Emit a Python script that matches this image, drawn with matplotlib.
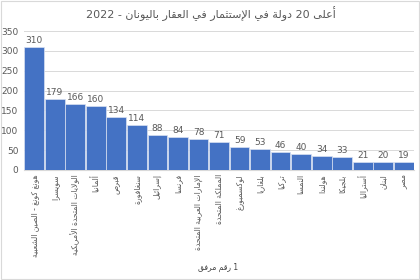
import matplotlib
matplotlib.use('Agg')
import matplotlib.pyplot as plt
import numpy as np

countries = ['هونغ كونغ - الصين الشعبية', 'سويسرا', 'الولايات المتحدة الأمريكية', 'ألمانيا',
             'قبرص', 'سنغافورة', 'إسرائيل', 'فرنسا', 'الإمارات العربية المتحدة',
             'المملكة المتحدة', 'لوكسمبورغ', 'بلغاريا', 'تركيا', 'النمسا', 'هولندا',
             'بلجيكا', 'أستراليا', 'لبنان', 'مصر']
values = [310, 179, 166, 160, 134, 114, 88, 84, 78, 71, 59, 53, 46, 40, 34, 33, 21, 20, 19]
yticks = [0, 50, 100, 150, 200, 250, 300, 350]
title = 'أعلى 20 دولة في الإستثمار في العقار باليونان - 2022'
note = 'مرفق رقم 1'

# matplotlib has no arabic shaping, so do a small one by hand
# (isolated, final, initial, medial)
FORMS = {
    'ء': (0xFE80, None, None, None), 'آ': (0xFE81, 0xFE82, None, None),
    'أ': (0xFE83, 0xFE84, None, None), 'ؤ': (0xFE85, 0xFE86, None, None),
    'إ': (0xFE87, 0xFE88, None, None), 'ئ': (0xFE89, 0xFE8A, 0xFE8B, 0xFE8C),
    'ا': (0xFE8D, 0xFE8E, None, None), 'ب': (0xFE8F, 0xFE90, 0xFE91, 0xFE92),
    'ة': (0xFE93, 0xFE94, None, None), 'ت': (0xFE95, 0xFE96, 0xFE97, 0xFE98),
    'ث': (0xFE99, 0xFE9A, 0xFE9B, 0xFE9C), 'ج': (0xFE9D, 0xFE9E, 0xFE9F, 0xFEA0),
    'ح': (0xFEA1, 0xFEA2, 0xFEA3, 0xFEA4), 'خ': (0xFEA5, 0xFEA6, 0xFEA7, 0xFEA8),
    'د': (0xFEA9, 0xFEAA, None, None), 'ذ': (0xFEAB, 0xFEAC, None, None),
    'ر': (0xFEAD, 0xFEAE, None, None), 'ز': (0xFEAF, 0xFEB0, None, None),
    'س': (0xFEB1, 0xFEB2, 0xFEB3, 0xFEB4), 'ش': (0xFEB5, 0xFEB6, 0xFEB7, 0xFEB8),
    'ص': (0xFEB9, 0xFEBA, 0xFEBB, 0xFEBC), 'ض': (0xFEBD, 0xFEBE, 0xFEBF, 0xFEC0),
    'ط': (0xFEC1, 0xFEC2, 0xFEC3, 0xFEC4), 'ظ': (0xFEC5, 0xFEC6, 0xFEC7, 0xFEC8),
    'ع': (0xFEC9, 0xFECA, 0xFECB, 0xFECC), 'غ': (0xFECD, 0xFECE, 0xFECF, 0xFED0),
    'ف': (0xFED1, 0xFED2, 0xFED3, 0xFED4), 'ق': (0xFED5, 0xFED6, 0xFED7, 0xFED8),
    'ك': (0xFED9, 0xFEDA, 0xFEDB, 0xFEDC), 'ل': (0xFEDD, 0xFEDE, 0xFEDF, 0xFEE0),
    'م': (0xFEE1, 0xFEE2, 0xFEE3, 0xFEE4), 'ن': (0xFEE5, 0xFEE6, 0xFEE7, 0xFEE8),
    'ه': (0xFEE9, 0xFEEA, 0xFEEB, 0xFEEC), 'و': (0xFEED, 0xFEEE, None, None),
    'ى': (0xFEEF, 0xFEF0, None, None), 'ي': (0xFEF1, 0xFEF2, 0xFEF3, 0xFEF4),
}
LAMALEF = {'آ': (0xFEF5, 0xFEF6), 'أ': (0xFEF7, 0xFEF8),
           'إ': (0xFEF9, 0xFEFA), 'ا': (0xFEFB, 0xFEFC)}


def shape_word(w):
    units = []
    i = 0
    while i < len(w):
        c = w[i]
        if c == 'ل' and i + 1 < len(w) and w[i + 1] in LAMALEF:
            iso, fin = LAMALEF[w[i + 1]]
            units.append((iso, fin, None, None))
            i += 2
        else:
            units.append(FORMS.get(c, c))
            i += 1
    out = []
    for j, u in enumerate(units):
        if isinstance(u, str):
            out.append(u)
            continue
        prev = j > 0 and not isinstance(units[j - 1], str) and units[j - 1][2] is not None
        nxt = u[2] is not None and j + 1 < len(units) and not isinstance(units[j + 1], str)
        if prev and nxt:
            code = u[3]
        elif prev:
            code = u[1]
        elif nxt:
            code = u[2]
        else:
            code = u[0]
        out.append(chr(code))
    return ''.join(out[::-1])


def ar(s, rtl=True):
    words = []
    for w in s.split(' '):
        if any(c in FORMS for c in w):
            words.append(shape_word(w))
        else:
            words.append(w)
    if rtl:
        words = words[::-1]
    return ' '.join(words)


grey = '#595959'
fig = plt.figure(figsize=(4.2, 2.8), dpi=100)
ax = fig.add_axes([0.057, 0.393, 0.929, 0.496])

x = np.arange(len(values))
bars = ax.bar(x, values, width=0.96, color='#4472C4', edgecolor='#D9E1F2', linewidth=0.5, zorder=3)
for xi, v in zip(x, values):
    ax.text(xi, v + 5, str(v), ha='center', va='bottom', fontsize=6.5, color=grey)

ax.set_xlim(-0.5, len(values) - 0.5)
ax.set_ylim(0, 350)
ax.set_yticks(yticks)
ax.tick_params(axis='y', labelsize=6.5, labelcolor=grey, length=0, pad=4)
ax.set_xticks(x)
ax.set_xticklabels([ar(c) for c in countries], rotation=90, fontsize=5.5, color=grey)
ax.tick_params(axis='x', length=0, pad=3)
ax.grid(axis='y', color='#D9D9D9', linewidth=0.7, zorder=0)
for s in ['top', 'right', 'left']:
    ax.spines[s].set_visible(False)
ax.spines['bottom'].set_color('#D9D9D9')

fig.text(0.503, 0.95, ar(title), ha='center', va='center', fontsize=8, color=grey)
# the note is laid out left to right in the original
fig.text(0.52, 0.045, ar(note, rtl=False), ha='center', va='center', fontsize=5.5, color='#404040')

fig.patches.append(plt.Rectangle((0.002, 0.004), 0.996, 0.992, transform=fig.transFigure,
                                 fill=False, edgecolor='#D9D9D9', linewidth=0.8))
fig.savefig('out.png', dpi=100)
